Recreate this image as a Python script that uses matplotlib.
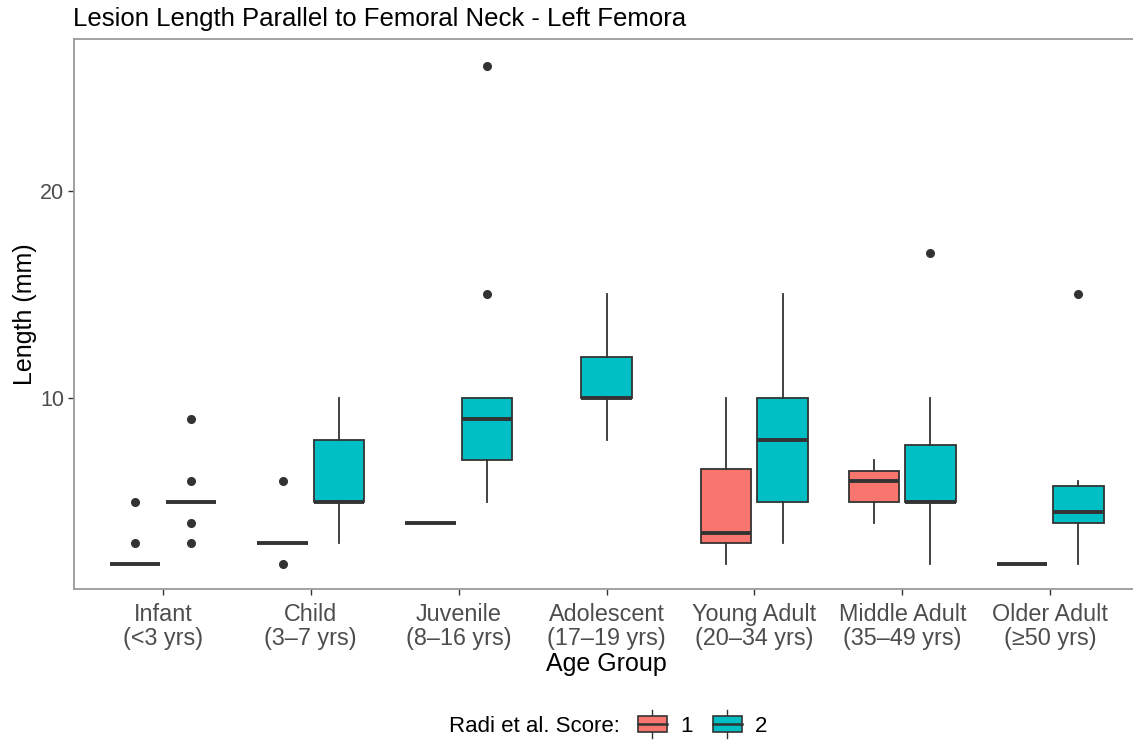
import matplotlib
matplotlib.use('Agg')
import matplotlib.pyplot as plt
from matplotlib.legend_handler import HandlerBase
from matplotlib.lines import Line2D
from matplotlib.patches import Rectangle, Patch

plt.rcParams['font.family'] = ['Liberation Sans', 'DejaVu Sans']

# Age groups (x categories)
categories = ['Infant\n(<3 yrs)', 'Child\n(3\u20137 yrs)', 'Juvenile\n(8\u201316 yrs)',
              'Adolescent\n(17\u201319 yrs)', 'Young Adult\n(20\u201334 yrs)',
              'Middle Adult\n(35\u201349 yrs)', 'Older Adult\n(\u226550 yrs)']

# Radi et al. score 1 (None = no data in that group)
score1_lo  = [2, 3, 4, None, 2,   4,   2]
score1_q1  = [2, 3, 4, None, 3,   5,   2]
score1_med = [2, 3, 4, None, 3.5, 6,   2]
score1_q3  = [2, 3, 4, None, 6.6, 6.5, 2]
score1_hi  = [2, 3, 4, None, 10,  7,   2]
score1_out = [[3, 5], [2, 6], [], [], [], [], []]

# Radi et al. score 2
score2_lo  = [5, 3,  5,  8,  3,  2,    2]
score2_q1  = [5, 5,  7,  10, 5,  5,    4]
score2_med = [5, 5,  9,  10, 8,  5,    4.5]
score2_q3  = [5, 8,  10, 12, 10, 7.75, 5.75]
score2_hi  = [5, 10, 10, 15, 15, 10,   6]
score2_out = [[3, 4, 6, 9], [], [15, 26], [], [], [17], [15]]

score_labels = ['1', '2']
score_colors = ['#F8766D', '#00BFC4']

EDGE = '#333333'
AXIS_GREY = '#9a9a9a'
TEXT_GREY = '#4d4d4d'


def make_stats(lo, q1, med, q3, hi, out):
    stats = []
    for i in range(len(lo)):
        if lo[i] is None:
            stats.append(None)
        else:
            stats.append(dict(whislo=lo[i], q1=q1[i], med=med[i], q3=q3[i],
                              whishi=hi[i], fliers=out[i]))
    return stats


class BoxKey(HandlerBase):
    # legend key that looks like a small boxplot
    def create_artists(self, legend, orig_handle, xdescent, ydescent,
                       width, height, fontsize, trans):
        x0, y0 = -xdescent, -ydescent
        cx = x0 + width / 2
        whisk = Line2D([cx, cx], [y0 - 0.4 * height, y0 + 1.4 * height],
                       color=EDGE, lw=1.0)
        box = Rectangle((x0, y0), width, height,
                        facecolor=orig_handle.get_facecolor(), edgecolor=EDGE, lw=1.2)
        med = Line2D([x0, x0 + width], [y0 + height / 2] * 2, color=EDGE, lw=1.8)
        for a in (whisk, box, med):
            a.set_transform(trans)
        return [whisk, box, med]


fig = plt.figure(figsize=(11.33, 7.42), dpi=100)
W, H = 1133, 742
ax = fig.add_axes([74 / W, (H - 589) / H, (1139 - 74) / W, (589 - 39) / H])

all_stats = [make_stats(score1_lo, score1_q1, score1_med, score1_q3, score1_hi, score1_out),
             make_stats(score2_lo, score2_q1, score2_med, score2_q3, score2_hi, score2_out)]

dodge = 0.19
for k, stats in enumerate(all_stats):
    other = all_stats[1 - k]
    use, pos = [], []
    for i, st in enumerate(stats):
        if st is None:
            continue
        off = 0 if other[i] is None else (-dodge if k == 0 else dodge)
        use.append(st)
        pos.append(i + 1 + off)
    ax.bxp(use, positions=pos, widths=0.34, patch_artist=True, showcaps=False,
           boxprops=dict(facecolor=score_colors[k], edgecolor=EDGE, linewidth=1.3),
           medianprops=dict(color=EDGE, linewidth=2.8, solid_capstyle='butt'),
           whiskerprops=dict(color=EDGE, linewidth=1.3),
           flierprops=dict(marker='o', markerfacecolor=EDGE, markeredgecolor=EDGE,
                           markersize=5.5, linestyle='none'),
           manage_ticks=False)

ax.set_xlim(0.4, 7.6)
ax.set_ylim(0.8, 27.3)
ax.set_xticks(range(1, len(categories) + 1))
ax.set_xticklabels(categories, fontsize=16.8, color=TEXT_GREY, linespacing=1.05)
ax.set_yticks([10, 20])
ax.set_yticklabels(['10', '20'], fontsize=15.5, color=TEXT_GREY)
ax.tick_params(axis='both', length=4, width=1.0, color=EDGE, pad=3)
ax.tick_params(axis='x', pad=6)

for side in ['left', 'bottom', 'top']:
    ax.spines[side].set_color(AXIS_GREY)
    ax.spines[side].set_linewidth(1.3)
ax.spines['right'].set_visible(False)

fig.text(73 / W, 1 - 19 / H, 'Lesion Length Parallel to Femoral Neck - Left Femora',
         fontsize=18.5, ha='left', va='center', color='black')
fig.text(25 / W, 1 - 314 / H, 'Length (mm)', rotation=90, fontsize=18,
         ha='center', va='center')
fig.text(606 / W, 1 - 664 / H, 'Age Group', fontsize=18, ha='center', va='center')

# legend: title to the left, keys to the right
leg_y = 1 - 726 / H
fig.text(620 / W, leg_y, 'Radi et al. Score:', fontsize=16, ha='right', va='center')
handles = [Patch(facecolor=c) for c in score_colors]
fig.legend(handles, score_labels, loc='center left', bbox_to_anchor=(638 / W, leg_y),
           ncol=2, frameon=False, fontsize=16, handler_map={Patch: BoxKey()},
           handlelength=1.3, handleheight=0.7, handletextpad=0.6,
           columnspacing=0.9, borderpad=0, borderaxespad=0)

fig.savefig('out.png', dpi=100)
